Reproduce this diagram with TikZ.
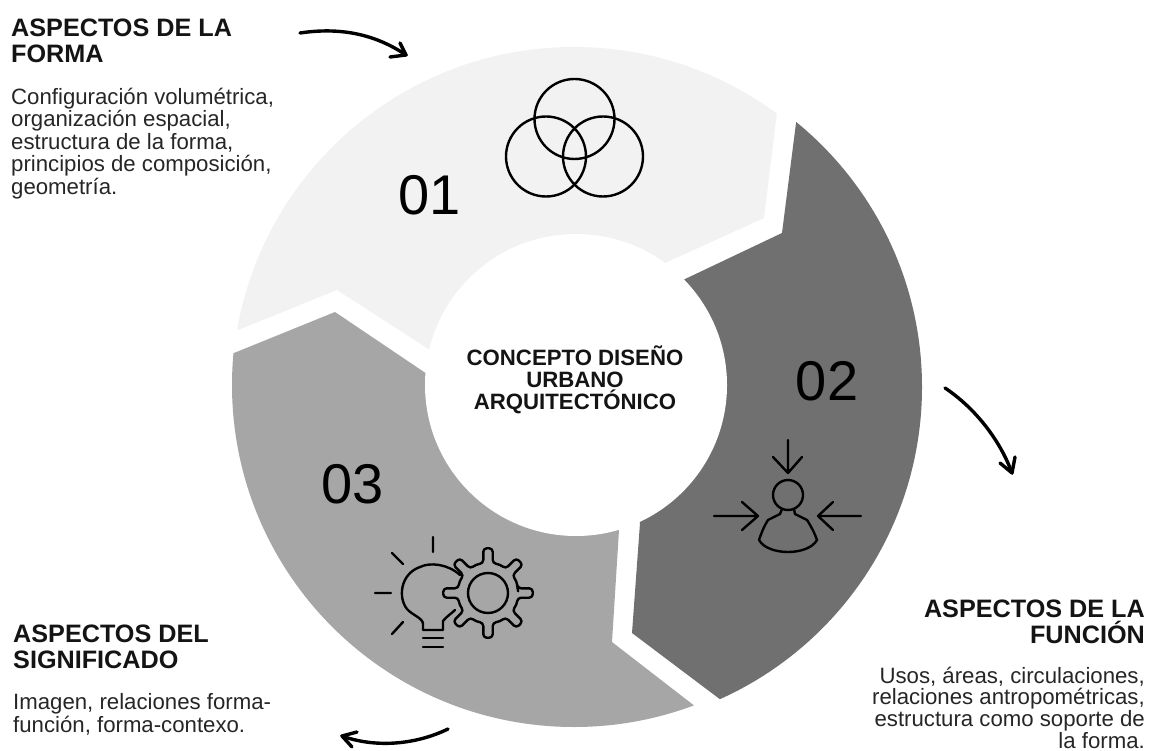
\documentclass[tikz,border=0pt]{standalone}
\usepackage{fontspec}
\setmainfont{Liberation Sans}
\usetikzlibrary{calc}
\definecolor{segA}{HTML}{F2F2F2}
\definecolor{segB}{HTML}{707070}
\definecolor{segC}{HTML}{A6A6A6}
\definecolor{ink}{HTML}{141414}
\definecolor{softink}{HTML}{262626}
\tikzset{
 x=1pt,y=-1pt,
 heading/.style={font=\fontsize{25.2}{26}\selectfont\bfseries,text=ink,inner sep=0pt,align=left,anchor=north west},
 headingr/.style={heading,align=right,anchor=north east},
 bodytext/.style={font=\fontsize{22.2}{22.4}\selectfont,text=softink,inner sep=0pt,align=left,anchor=north west},
 bodytextr/.style={bodytext,align=right,anchor=north east,font=\fontsize{22.2}{21.7}\selectfont},
 num/.style={font=\fontsize{56}{60}\selectfont,text=black,inner sep=0pt},
 icon/.style={draw=black,line width=2.4pt,line cap=round,line join=round},
 sketch/.style={draw=black,line width=3.4pt,line cap=round,line join=round}
}
\begin{document}
\begin{tikzpicture}
\useasboundingbox (0,0) rectangle (1153,751);
\fill[white] (0,0) rectangle (1153,751);
% segments
\begin{scope}
\clip (238,330) -- (337,290) -- (430,350) -- (576,385) -- (665,263) -- (764,218) -- (777,112) -- (790,6) -- (150,6) -- (150,366) -- cycle;
\fill[segA] (574,389) circle[radius=342];
\end{scope}
\begin{scope}
\clip (796,123) -- (782,233) -- (683,280) -- (576,385) -- (640,523) -- (632,633) -- (717,697) -- (800,760) -- (960,760) -- (960,29) -- (808,29) -- cycle;
\fill[segB] (580,387) circle[radius=342];
\end{scope}
\begin{scope}
\clip (234,353) -- (335,312) -- (427,374) -- (576,385) -- (619,530) -- (612,642) -- (696,707) -- (760,757) -- (150,757) -- (150,387) -- cycle;
\fill[segC] (574,385) circle[radius=342];
\end{scope}
\fill[white] (576,385) circle[radius=151];
\node[font=\fontsize{22.2}{22}\selectfont\bfseries,text=ink,align=center,inner sep=0pt,anchor=north] (center) at (575,346) {CONCEPTO DISEÑO\\URBANO\\ARQUITECTÓNICO};
% numbers
\node[num] (n1) at (430,195) {01};
\node[num] (n2) at (827,381) {02};
\node[num] (n3) at (353,484) {03};
% texts
\node[heading] (h1) at (11,18.5) {ASPECTOS DE LA\\FORMA};
\node[bodytext] (b1) at (11,88) {Configuración volumétrica,\\organización espacial,\\estructura de la forma,\\principios de composición,\\geometría.};
\node[headingr] (h2) at (1145,600) {ASPECTOS DE LA\\FUNCIÓN};
\node[bodytextr] (b2) at (1145,666.5) {Usos, áreas, circulaciones,\\relaciones antropométricas,\\estructura como soporte de\\la forma.};
\node[heading] (h3) at (13,624.5) {ASPECTOS DEL\\SIGNIFICADO};
\node[bodytext] (b3) at (13,693.5) {Imagen, relaciones forma-\\función, forma-contexo.};
% sketched arrows
\coordinate (a1s) at (300,33); \coordinate (a1e) at (406,55);
\draw[sketch] (a1s) .. controls (340,27) and (375,34) .. (a1e);
\draw[sketch] (390,57) -- (a1e) -- (400,43);
\coordinate (a2s) at (945,388); \coordinate (a2e) at (1012,473);
\draw[sketch] (a2s) .. controls (975,408) and (1000,440) .. (a2e);
\draw[sketch] (1000,463) -- (a2e) -- (1015,457);
\coordinate (a3s) at (448,729); \coordinate (a3e) at (342,736);
\draw[sketch] (a3s) .. controls (415,745) and (375,748) .. (a3e);
\draw[sketch] (357,732) -- (a3e) -- (352,747);
% three circles
\draw[icon] (574.5,119) circle[radius=40] (546,156.5) circle[radius=40] (603,156.5) circle[radius=40];
% person
\draw[icon] (788,495) circle[radius=15];
\draw[icon] (788,440) -- (788,473) (773,457) -- (788,473) -- (802,457);
\draw[icon] (714,516) -- (758,516) (742,502) -- (758,516) -- (742,530);
\draw[icon] (861,516) -- (818,516) (833,502) -- (818,516) -- (833,530);
\draw[icon] (782,509) -- (780,514) -- (768,520) .. controls (764,526) and (761,534) .. (759,540) .. controls (768,556) and (808,556) .. (817,540) .. controls (815,534) and (811,526) .. (807,520) -- (795,514) -- (794,509);
% bulb
\draw[icon] (433,537) -- (433,552) (392,553) -- (403,564) (375,593) -- (391,593) (392,634) -- (403,622);
\draw[icon] (460,575) .. controls (448,564) and (430,562) .. (420,567) .. controls (400,574) and (398,598) .. (407,609) .. controls (412,615) and (423,618) .. (423,624) -- (423,630) -- (443,630) -- (443,621) .. controls (446,617) and (452,613) .. (455,610);
\draw[icon] (423,638) -- (443,638) (423,647) -- (443,647);
% gear
\coordinate (gc) at (488,593);
\draw[icon] (gc) circle[radius=20];
\draw[icon,rounded corners=3.5pt] ($(gc)+(-10:30)$)
  \foreach \k in {0,45,...,315}{
    -- ($(gc)+(\k-9:30)$) -- ($(gc)+(\k-6:45)$) -- ($(gc)+(\k+6:45)$) -- ($(gc)+(\k+9:30)$) -- ($(gc)+(\k+22.5:31)$)
  } -- cycle;
\end{tikzpicture}
\end{document}
